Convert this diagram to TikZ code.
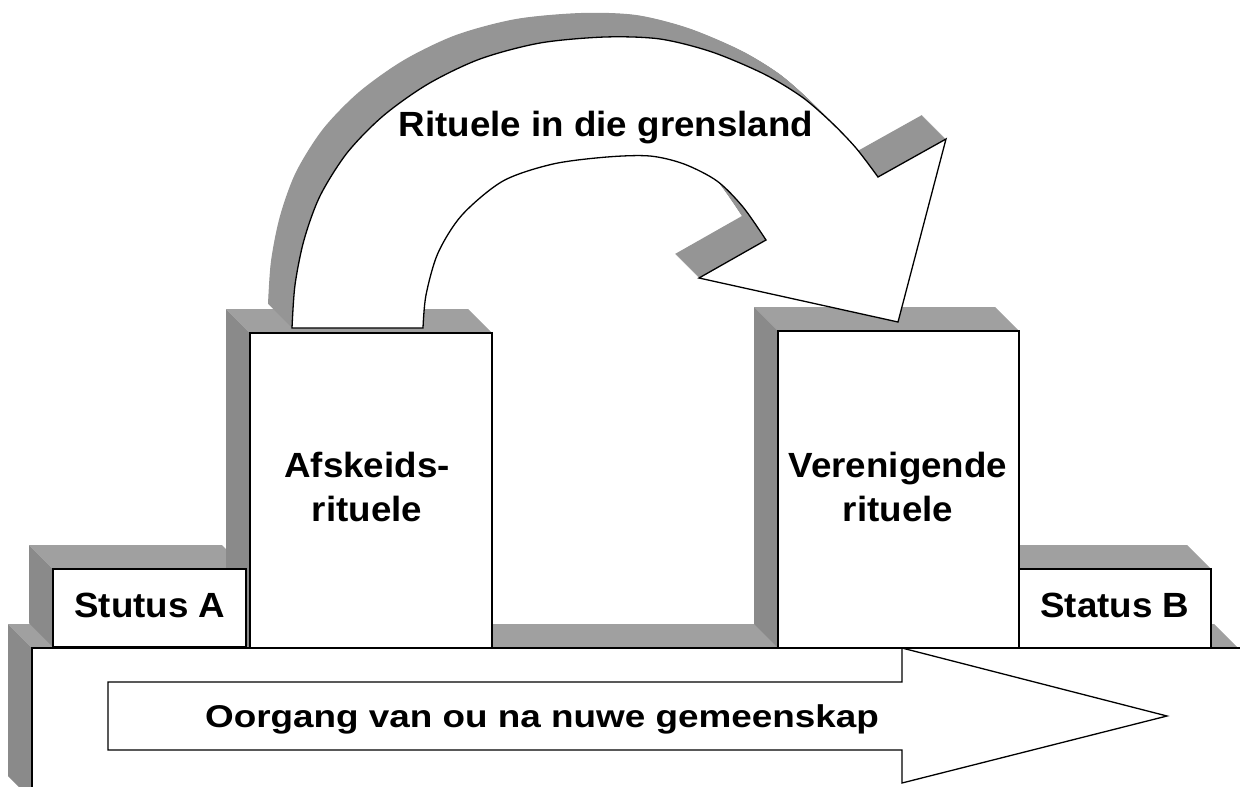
\documentclass[tikz,border=0pt]{standalone}
\usepackage{fontspec}
\newfontfamily\labfont[FakeStretch=1.05]{Liberation Sans}
\newfontfamily\bottomfont[FakeStretch=1.17]{Liberation Sans}
\definecolor{topgray}{HTML}{A0A0A0}
\definecolor{sidegray}{HTML}{8A8A8A}
\definecolor{bandgray}{HTML}{959595}
\pgfdeclarelayer{slabfaces}
\pgfdeclarelayer{boxfaces}
\pgfdeclarelayer{toplayer}
\pgfsetlayers{slabfaces,boxfaces,main,toplayer}
\newcommand\MakeFaces[1]{%
  \begin{pgfonlayer}{boxfaces}
    \fill[topface] (#1.north west) -- ++(-24,-24) -- ([shift={(-24,-24)}]#1.north east) -- (#1.north east) -- cycle;
    \fill[sideface] (#1.north west) -- ++(-24,-24) -- ([shift={(-24,-24)}]#1.south west) -- (#1.south west) -- cycle;
  \end{pgfonlayer}}
\def\ArrowOutline{plot[smooth] coordinates {(292,328) (295,285) (304,240) (320,196) (347,153) (383,116) (428,84) (480,59) (540,43) (605,37) (660,39) (712,52) (764,74) (802,97) (831,122) (856,148) (878,177)} -- (946,139) -- (898,322) -- (699,278) -- plot[smooth] coordinates {(766,240) (743,207) (717,181) (684,164) (650,156) (607,157) (553,164) (503,181) (462,215) (438,253) (426,295) (423,328)} -- cycle}
\begin{document}
\begin{tikzpicture}[x=1pt,y=-1pt,
  topface/.style={fill=topgray},
  sideface/.style={fill=sidegray},
  frontbox/.style={draw=black, line width=1.2pt, fill=white, outer sep=0pt, inner sep=0pt, anchor=north west},
  lab/.style={font=\labfont\bfseries\fontsize{35}{44}\selectfont, align=center, inner sep=0pt},
  outline/.style={draw=black, line width=1.3pt, line join=miter, fill=white}]
\useasboundingbox (0,0) rectangle (1240,787);
\clip (0,0) rectangle (1240,787);
% base slab
\begin{pgfonlayer}{slabfaces}
  \fill[topface] (8,624) -- (1214,624) -- (1238,648) -- (32,648) -- cycle;
  \fill[sideface] (8,624) -- (32,648) -- (32,800) -- (8,776) -- cycle;
\end{pgfonlayer}
\fill[white] (32,648) rectangle (1238,800);
\draw[line width=1.2pt] (32,800) -- (32,648) -- (1240,648);
% boxes
\node[frontbox, minimum width=193, minimum height=78] (sa) at (53,569) {};
\node[frontbox, minimum width=242, minimum height=315] (afs) at (250,333) {};
\node[frontbox, minimum width=192, minimum height=79] (sb) at (1019,569) {};
\node[frontbox, minimum width=241, minimum height=317] (ver) at (778,331) {};
\MakeFaces{sa}
\MakeFaces{afs}
\MakeFaces{sb}
\MakeFaces{ver}
\node[lab, anchor=base] (tsa) at (150,617) {Stutus A};
\node[lab, anchor=base] (tsb) at (1115,617) {Status B};
\node[lab] (tafs) at (367,487) {Afskeids-\\rituele};
\node[lab] (tver) at (898,487) {Verenigende\\rituele};
\begin{pgfonlayer}{toplayer}
  % bottom arrow
  \path[outline] (108,682) -- (902,682) -- (902,648) -- (1167,716) -- (902,783) -- (902,750) -- (108,750) -- cycle;
  \node[font=\bottomfont\bfseries\fontsize{31.5}{36}\selectfont, inner sep=0pt, anchor=base] (toor) at (542,727) {Oorgang van ou na nuwe gemeenskap};
  % curved arrow with extrusion
  \foreach \k in {0,0.5,...,24} {
    \fill[bandgray, shift={(-\k,-\k)}] \ArrowOutline;
  }
  \path[outline] \ArrowOutline;
  \node[lab, anchor=base] (trit) at (606,136) {Rituele in die grensland};
\end{pgfonlayer}
\end{tikzpicture}
\end{document}
